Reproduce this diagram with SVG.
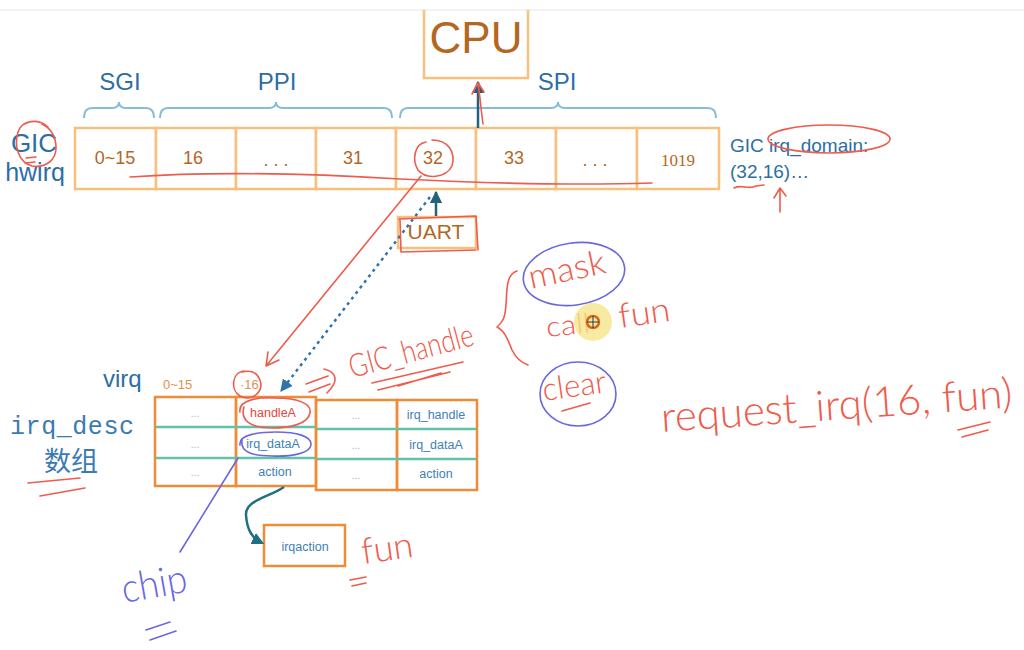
<svg xmlns="http://www.w3.org/2000/svg" width="1024" height="650" viewBox="0 0 1024 650">
<style>
.cell{fill:#fff;stroke:#f9c07c;stroke-width:2.5}
.tcell{fill:none;stroke:#f08c38;stroke-width:2.5}
.teal{stroke:#63c2aa;stroke-width:2.5}
.num{font-family:"Liberation Sans",Arial,sans-serif;font-size:18px;fill:#b5661f;text-anchor:middle}
.blue{font-family:"Liberation Sans",Arial,sans-serif;fill:#2d6ea5}
.brace{fill:none;stroke:#86bcd6;stroke-width:2}
.small{font-family:"Liberation Sans",Arial,sans-serif;font-size:12.5px;fill:#3f7fb5;text-anchor:middle}
.dots{font-family:"Liberation Sans",Arial,sans-serif;font-size:10px;fill:#b0b0b0;text-anchor:middle}
.red{fill:none;stroke:#ef5b4c;stroke-width:1.6;stroke-linecap:round;stroke-linejoin:round}
.pur{fill:none;stroke:#6a68de;stroke-width:1.6;stroke-linecap:round}
.hw{font-family:Lato,"Open Sans",sans-serif;font-weight:300;fill:#ef5b4c}
.hwb{font-family:Lato,"Open Sans",sans-serif;font-weight:300;fill:#6a68de}
</style>
<defs>
<marker id="ah" viewBox="0 0 10 10" refX="9" refY="5" markerWidth="5" markerHeight="5" orient="auto" markerUnits="strokeWidth">
<path d="M0,0 L10,5 L0,10 z" fill="#23627e"/>
</marker>
<marker id="ahd" viewBox="0 0 10 10" refX="9" refY="5" markerWidth="5" markerHeight="5" orient="auto" markerUnits="strokeWidth">
<path d="M0,0 L10,5 L0,10 z" fill="#2f74aa"/>
</marker>
<marker id="aht" viewBox="0 0 10 10" refX="8" refY="5" markerWidth="5" markerHeight="5" orient="auto" markerUnits="strokeWidth">
<path d="M0,0 L10,5 L0,10 z" fill="#1f7082"/>
</marker>
</defs>
<rect width="1024" height="650" fill="#fff"/>
<line x1="0" y1="10" x2="1024" y2="10" stroke="#eeeeee" stroke-width="1.5"/>

<g id="cpu">
<path d="M424,10 V78 H528 V10" fill="none" stroke="#f9c07c" stroke-width="2.5"/>
<text x="476" y="53" font-family="Liberation Sans,Arial,sans-serif" font-size="44" fill="#b5661f" text-anchor="middle">CPU</text>
</g>

<g id="groups">
<path class="brace" d="M84,118 Q84,108 92,108 L112,108 Q119,108 119,102 Q119,108 126,108 L146,108 Q154,108 154,118"/>
<path class="brace" d="M160,118 Q160,108 168,108 L269,108 Q276,108 276,102 Q276,108 283,108 L384,108 Q392,108 392,118"/>
<path class="brace" d="M400,118 Q400,108 408,108 L551,108 Q558,108 558,102 Q558,108 565,108 L708,108 Q716,108 716,118"/>
<text class="blue" x="120" y="90" font-size="24" text-anchor="middle">SGI</text>
<text class="blue" x="277" y="90" font-size="24" text-anchor="middle">PPI</text>
<text class="blue" x="557" y="90" font-size="24" text-anchor="middle">SPI</text>
</g>

<g id="gic-label">
<text class="blue" x="34" y="152" font-size="26" text-anchor="middle">GIC</text>
<text class="blue" x="35" y="181" font-size="25" text-anchor="middle">hwirq</text>
</g>

<g id="hwirq-row">
<rect class="cell" x="75" y="128" width="81" height="61"/>
<rect class="cell" x="156" y="128" width="80" height="61"/>
<rect class="cell" x="236" y="128" width="80" height="61"/>
<rect class="cell" x="316" y="128" width="80" height="61"/>
<rect class="cell" x="396" y="128" width="80" height="61"/>
<rect class="cell" x="476" y="128" width="80" height="61"/>
<rect class="cell" x="556" y="128" width="81" height="61"/>
<rect class="cell" x="637" y="128" width="82" height="61"/>
<text class="num" x="115" y="164">0~15</text>
<text class="num" x="193" y="164">16</text>
<text class="num" x="276" y="166">. . .</text>
<text class="num" x="353" y="164">31</text>
<text class="num" x="433" y="164">32</text>
<text class="num" x="514" y="164">33</text>
<text class="num" x="595" y="166">. . .</text>
<text x="678" y="166" font-family="Liberation Serif,serif" font-size="17" fill="#b5661f" text-anchor="middle">1019</text>
</g>

<g id="irq-domain">
<text class="blue" x="730" y="152" font-size="19">GIC irq_domain:</text>
<text class="blue" x="730" y="178" font-size="19">(32,16)…</text>
</g>

<g id="uart">
<rect x="398" y="217" width="78" height="31" fill="none" stroke="#f9c07c" stroke-width="2.5"/>
<text x="436" y="239" font-family="Liberation Sans,Arial,sans-serif" font-size="21" fill="#b5661f" text-anchor="middle">UART</text>
</g>

<g id="virq-label">
<text class="blue" x="103" y="387" font-size="24">virq</text>
<text x="163" y="389" font-family="Liberation Sans,Arial,sans-serif" font-size="13" fill="#d9944f">0~15</text>
<text x="240" y="389" font-family="Liberation Sans,Arial,sans-serif" font-size="13" fill="#d9944f">·16</text>
</g>

<g id="irq-desc-label">
<text x="10" y="434" font-family="Liberation Mono,monospace" font-size="25" fill="#3b7bb2" textLength="124">irq_desc</text>
<text x="44" y="471" font-family="Noto Sans CJK SC,sans-serif" font-size="27" fill="#3b7bb2">数组</text>
</g>

<g id="irq-desc-table">
<rect class="tcell" x="155" y="397" width="81" height="89"/>
<rect class="tcell" x="236" y="397" width="80" height="89"/>
<rect class="tcell" x="316" y="400" width="81" height="90"/>
<rect class="tcell" x="397" y="400" width="80" height="90"/>
<line class="teal" x1="156" y1="427" x2="315" y2="427"/>
<line class="teal" x1="156" y1="458" x2="315" y2="458"/>
<line class="teal" x1="317" y1="429" x2="476" y2="429"/>
<line class="teal" x1="317" y1="459" x2="476" y2="459"/>
<text class="dots" x="195" y="417">...</text>
<text class="dots" x="195" y="448">...</text>
<text class="dots" x="195" y="476">...</text>
<text class="dots" x="356" y="419">...</text>
<text class="dots" x="356" y="449">...</text>
<text class="dots" x="356" y="479">...</text>
<text class="small" x="273" y="417" style="fill:#e8453a">handleA</text>
<text class="small" x="273" y="448">irq_dataA</text>
<text class="small" x="275" y="476">action</text>
<text class="small" x="436" y="419">irq_handle</text>
<text class="small" x="436" y="449">irq_dataA</text>
<text class="small" x="436" y="478">action</text>
</g>

<g id="irqaction">
<rect x="264" y="525" width="81" height="41" fill="none" stroke="#f08c38" stroke-width="2.5"/>
<text class="small" x="305" y="551">irqaction</text>
</g>

<g id="connectors">
<line x1="478" y1="128" x2="478" y2="82" stroke="#23627e" stroke-width="2.5" marker-end="url(#ah)"/>
<line x1="436" y1="216" x2="436" y2="192" stroke="#23627e" stroke-width="2.5" marker-end="url(#ah)"/>
<line x1="430" y1="197" x2="281" y2="391" stroke="#2f74aa" stroke-width="2.5" stroke-dasharray="3 4" marker-end="url(#ahd)"/>
<path d="M284,487 C270,497 245,500 246,515 C247,530 252,538 262,543" fill="none" stroke="#1f7082" stroke-width="2.5" marker-end="url(#aht)"/>
</g>

<g id="annotations">
<path class="red" d="M48,127 C38,118 22,120 18,132 C14,146 18,162 32,166 C46,168 56,160 56,148 C56,136 50,128 42,124"/>
<path class="red" d="M26,158 L36,157 M25,163 L35,162"/>
<path class="red" d="M130,177 C200,172 300,173 400,179 C480,183 560,186 652,183"/>
<path class="red" d="M426,142 C414,144 412,160 418,170 C426,180 446,178 452,166 C456,152 448,140 432,140"/>
<path class="red" d="M421,176 L266,366 M266,366 L268,352 M266,366 L279,360"/>
<path class="red" d="M483,124 C481,110 480,95 478,84 M472,94 L478,83 L484,92"/>
<path class="red" d="M399,219 L476,216 L478,250 M400,219 L401,252 L476,250"/>
<path class="red" d="M244,371 C232,372 230,390 240,396 C252,402 264,392 260,380 C257,372 250,370 242,372"/>
<path class="red" d="M306,384 L328,376 M309,392 L330,384 M324,369 C336,372 340,380 327,393"/>
<path class="red" d="M240,412 C238,400 258,397 276,398 C298,398 312,404 310,413 C308,424 290,428 272,428 C250,428 240,420 244,407"/>
<path class="pur" d="M240,445 C238,434 262,432 276,432 C296,432 312,436 311,445 C310,453 292,457 272,456 C252,456 240,452 242,440"/>
<path class="pur" d="M238,458 L180,552"/>
<path class="red" d="M372,383 L463,362 M398,386 L441,373 M378,390 L450,372"/>
<text class="hw" x="352" y="378" font-size="32" textLength="128" lengthAdjust="spacingAndGlyphs" transform="rotate(-15 352 378)">GIC_handle</text>
<path class="red" d="M517,271 C506,274 507,290 506,305 C505,318 503,322 497,327 C505,331 508,340 512,350 C516,358 522,363 528,365"/>
<ellipse class="pur" cx="574" cy="274" rx="51" ry="31" transform="rotate(-8 574 274)"/>
<text class="hw" x="531" y="289" font-size="34" textLength="78" lengthAdjust="spacingAndGlyphs" transform="rotate(-12 531 289)">mask</text>
<text class="hw" x="547" y="337" font-size="28" textLength="44" lengthAdjust="spacingAndGlyphs" transform="rotate(-6 547 337)">call</text>
<text class="hw" x="620" y="328" font-size="34" textLength="52" lengthAdjust="spacingAndGlyphs" transform="rotate(-8 620 328)">fun</text>
<ellipse class="pur" cx="578" cy="394" rx="38" ry="32"/>
<text class="hw" x="544" y="401" font-size="32" textLength="64" lengthAdjust="spacingAndGlyphs" transform="rotate(-8 544 401)">clear</text>
<path class="red" d="M562,411 L590,403"/>
<circle cx="593" cy="322" r="19" fill="#f6e58a" opacity="0.8"/>
<circle cx="593" cy="322" r="6" fill="none" stroke="#d2691e" stroke-width="2.5"/>
<path d="M587,322 H599 M593,316 V328" stroke="#333" stroke-width="1"/>
<text class="hw" x="662" y="432" font-size="42" textLength="352" lengthAdjust="spacingAndGlyphs" transform="rotate(-4 662 432)">request_irq(16, fun)</text>
<path class="red" d="M958,430 L990,422 M962,437 L988,430"/>
<ellipse class="red" cx="829" cy="139" rx="61" ry="14"/>
<path class="red" d="M734,188 C742,184 748,190 756,186 L764,185 M780,212 L780,190 M774,198 L780,188 L786,196"/>
<text class="hw" x="363" y="564" font-size="36" textLength="52" lengthAdjust="spacingAndGlyphs" transform="rotate(-8 363 564)">fun</text>
<path class="red" d="M350,580 L366,577 M352,586 L366,583"/>
<text class="hwb" x="124" y="603" font-size="40" textLength="66" lengthAdjust="spacingAndGlyphs" transform="rotate(-10 124 603)">chip</text>
<path class="pur" d="M146,630 L170,622 M150,640 L176,631"/>
<path class="red" d="M28,483 L80,478 M40,496 L85,488"/>
</g>
</svg>
